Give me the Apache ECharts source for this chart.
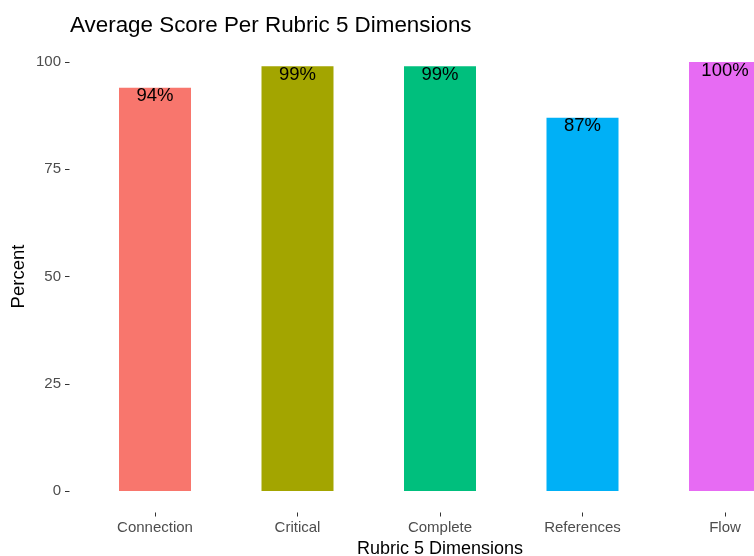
<!DOCTYPE html>
<html>
<head>
<meta charset="utf-8">
<script src="https://cdn.jsdelivr.net/npm/echarts@6/dist/echarts.min.js"></script>
<style>
  html, body { margin: 0; padding: 0; background: #fff; }
  #chart { width: 754px; height: 556px; }
</style>
</head>
<body>
<div id="chart"></div>
<script>
// Average score (percent) for each rubric dimension
const categories = ['Connection', 'Critical', 'Complete', 'References', 'Flow'];
const scores = [94, 99, 99, 87, 100];
const yTicks = [0, 25, 50, 75, 100];

// ggplot2 default hue palette for five groups
const palette = ['#F8766D', '#A3A500', '#00BF7D', '#00B0F6', '#E76BF3'];

const FONT = '"Liberation Sans", Arial, sans-serif';

// panel padded by 5% of the data range above and below
const yPad = (yTicks[yTicks.length - 1] - yTicks[0]) * 0.05;

const chart = echarts.init(document.getElementById('chart'), null, { renderer: 'canvas' });

chart.setOption({
  animation: false,
  backgroundColor: '#ffffff',
  textStyle: { fontFamily: FONT },
  title: {
    text: 'Average Score Per Rubric 5 Dimensions',
    left: 65,
    top: 10,
    textStyle: { fontFamily: FONT, fontSize: 22.4, fontWeight: 'normal', color: '#000000' }
  },
  // vertical y-axis title
  graphic: [{
    type: 'text',
    x: 18.5,
    y: 276.5,
    rotation: Math.PI / 2,
    style: {
      text: 'Percent',
      fontFamily: FONT,
      fontSize: 18.5,
      fill: '#000000',
      align: 'center',
      verticalAlign: 'middle'
    }
  }],
  grid: {
    left: 83.75,
    top: 40.5,
    width: 712.5,
    height: 472,
    containLabel: false,
    outerBoundsMode: 'none'
  },
  xAxis: {
    type: 'category',
    data: categories,
    name: 'Rubric 5 Dimensions',
    nameLocation: 'middle',
    nameGap: 27,
    nameTextStyle: { fontFamily: FONT, fontSize: 18, color: '#000000' },
    axisLine: { show: false, onZero: false },
    axisTick: { show: true, alignWithLabel: true, length: 4, lineStyle: { color: '#333333', width: 1 } },
    axisLabel: { margin: 7.5, fontFamily: FONT, fontSize: 15, color: '#4D4D4D' },
    splitLine: { show: false }
  },
  yAxis: {
    type: 'value',
    min: yTicks[0] - yPad,
    max: yTicks[yTicks.length - 1] + yPad,
    offset: 14.25,
    axisLine: { show: false },
    axisTick: { show: true, length: 4.5, customValues: yTicks, lineStyle: { color: '#333333', width: 1 } },
    axisLabel: { margin: 8.5, customValues: yTicks, fontFamily: FONT, fontSize: 15, color: '#4D4D4D' },
    splitLine: { show: false }
  },
  series: [{
    type: 'bar',
    data: scores.map((v, i) => ({ value: v, itemStyle: { color: palette[i] } })),
    barWidth: 72,
    label: {
      show: true,
      position: 'insideTop',
      distance: 0,
      offset: [0, -1],
      formatter: p => p.value + '%',
      fontFamily: FONT,
      fontSize: 18.5,
      color: '#000000'
    }
  }]
});
</script>
</body>
</html>
